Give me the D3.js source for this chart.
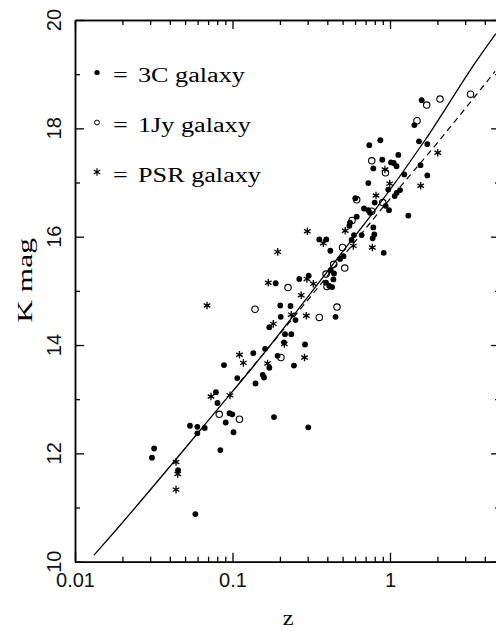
<!DOCTYPE html>
<html>
<head>
<meta charset="utf-8">
<script src="https://cdn.jsdelivr.net/npm/d3@7"></script>
<style>
  body { margin: 0; background: #fff; }
  svg { display: block; }
</style>
</head>
<body>
<script>
// values: [z, K mag]
var gal3C = [
  [0.0883,13.63],[0.1072,13.39],[0.140,13.29],[0.0785,13.13],[0.0803,12.93],[0.0957,12.74],
  [0.0997,12.72],[0.0906,12.57],[0.1015,12.39],[0.0537,12.51],[0.0598,12.49],[0.0666,12.47],
  [0.0598,12.37],[0.0318,12.09],[0.0308,11.92],[0.0837,12.06],[0.0451,11.69],[0.0581,10.88],
  [0.1834,12.67],[0.3028,12.48],[0.1585,13.40],[0.1555,13.45],[0.1933,13.80],[0.2455,13.62],
  [0.1713,13.58],[0.1356,13.85],[0.161,13.93],[0.2123,14.05],[0.2887,14.01],[0.2155,14.20],
  [0.2362,14.20],[0.1713,14.33],[0.2023,14.52],[0.2512,14.46],[0.4508,14.52],[0.201,14.73],
  [0.2335,14.72],[0.188,15.14],[0.2655,15.22],[0.3048,15.28],[0.42,15.38],[0.441,15.32],
  [0.3925,15.15],[0.412,15.09],[0.4287,15.07],[0.437,15.21],[0.3557,15.95],[0.394,15.95],
  [0.418,15.74],[0.4817,15.59],[0.507,15.64],[0.552,16.20],[0.5907,16.03],[0.571,15.94],
  [0.661,16.03],[0.6146,16.37],[0.557,16.26],[0.7834,16.17],[0.795,16.04],[0.776,15.97],
  [0.912,15.70],[0.6839,16.52],[0.7283,16.49],[0.7465,16.44],[0.7993,16.63],[0.939,16.57],
  [0.9855,16.49],[1.307,16.39],[0.602,16.71],[0.975,16.87],[1.157,16.86],[1.103,16.81],
  [1.071,16.75],[0.7283,16.99],[0.7834,17.26],[1.232,17.15],[1.725,17.13],[1.562,17.32],
  [1.015,17.37],[1.056,17.36],[1.1,17.30],[0.893,17.42],[1.129,17.51],[0.739,17.69],
  [0.868,17.78],[1.528,17.76],[1.725,17.71],[1.427,18.06],[1.589,18.52]
];
var gal1Jy = [
  [0.0824,12.72],[0.1107,12.63],[0.139,14.66],[0.203,13.77],[0.2251,15.06],[0.3557,14.51],
  [0.4606,14.70],[0.398,15.08],[0.3925,15.31],[0.439,15.49],[0.5159,15.42],[0.4994,15.80],
  [0.574,16.30],[0.6146,16.68],[0.7658,16.47],[0.899,16.63],[0.936,17.18],[0.7658,17.40],
  [1.484,18.14],[1.71,18.43],[2.077,18.54],[3.244,18.63]
];
var galPSR = [
  [0.1172,13.67],[0.073,13.05],[0.0964,13.07],[0.0438,11.84],[0.0449,11.62],[0.0438,11.33],
  [0.0689,14.73],[0.1937,15.72],[0.1686,15.15],[0.1107,13.82],[0.167,13.66],[0.2133,14.02],
  [0.2865,13.77],[0.1815,14.39],[0.236,14.56],[0.294,14.54],[0.273,14.92],[0.326,15.13],
  [0.2985,16.10],[0.377,15.88],[0.5195,16.11],[0.585,15.83],[0.772,15.80],[0.815,16.76],
  [0.995,16.98],[1.566,16.94],[2.01,17.55],[0.929,17.24],[0.297,15.22]
];
// model curves
var solidCurve = [
  [0.0132,10.12],[0.0184,10.60],[0.0813,12.83],[0.146,13.72],[0.265,14.68],
  [0.481,15.66],[0.803,16.49],[1.668,17.78],[3.57,19.26],[4.7,19.75]
];
var dashedCurve = [
  [0.1116,13.32],[0.289,14.77],[0.907,16.55],[1.98,17.72],[4.64,19.05]
];

var legendLabels = ["3C galaxy", "1Jy galaxy", "PSR galaxy"];
var xMajor = [0.01, 0.1, 1];
var xMajorLabels = ["0.01", "0.1", "1"];
var xMinor = [0.02,0.03,0.04,0.05,0.06,0.07,0.08,0.09,0.2,0.3,0.4,0.5,0.6,0.7,0.8,0.9,2,3,4];
var yMajor = [10, 12, 14, 16, 18, 20];
var yMajorLabels = ["10", "12", "14", "16", "18", "20"];
var yMinor = [11, 13, 15, 17, 19];

var W = 496, H = 631;
var plotL = 75, plotR = 500.1, plotT = 20, plotB = 561.7;

var svg = d3.select("body").append("svg")
    .attr("width", W)
    .attr("height", H);

var x = d3.scaleLog().domain([0.01, 5]).range([plotL, plotR]);
var y = d3.scaleLinear().domain([10, 20]).range([plotB, plotT]);

// axes: ticks point inward on all four sides
function styleAxis(g) {
    g.selectAll("path.domain").attr("stroke", "#000").attr("stroke-width", 1.5);
    g.selectAll(".tick line").attr("stroke", "#000").attr("stroke-width", 1.3);
}

svg.append("g")
    .attr("transform", "translate(0," + plotB + ")")
    .call(d3.axisBottom(x).tickValues(xMajor).tickSize(-9).tickSizeOuter(0).tickPadding(11)
        .tickFormat(function(d, i) { return xMajorLabels[i]; }))
    .call(styleAxis)
    .selectAll("text")
        .attr("font-family", "'Liberation Sans', Arial, sans-serif")
        .attr("font-size", 20)
        .attr("fill", "#111");
svg.append("g")
    .attr("transform", "translate(0," + plotB + ")")
    .call(d3.axisBottom(x).tickValues(xMinor).tickSize(-5).tickSizeOuter(0).tickFormat(""))
    .call(styleAxis);

svg.append("g")
    .attr("transform", "translate(0," + plotT + ")")
    .call(d3.axisTop(x).tickValues(xMajor).tickSize(-9).tickSizeOuter(0).tickFormat(""))
    .call(styleAxis);
svg.append("g")
    .attr("transform", "translate(0," + plotT + ")")
    .call(d3.axisTop(x).tickValues(xMinor).tickSize(-5).tickSizeOuter(0).tickFormat(""))
    .call(styleAxis);

svg.append("g")
    .attr("transform", "translate(" + plotL + ",0)")
    .call(d3.axisLeft(y).tickValues(yMajor).tickSize(-9).tickSizeOuter(0).tickFormat(""))
    .call(styleAxis);
svg.append("g")
    .attr("transform", "translate(" + plotL + ",0)")
    .call(d3.axisLeft(y).tickValues(yMinor).tickSize(-5).tickSizeOuter(0).tickFormat(""))
    .call(styleAxis);

svg.append("g")
    .attr("transform", "translate(" + plotR + ",0)")
    .call(d3.axisRight(y).tickValues(yMajor).tickSize(-9).tickSizeOuter(0).tickFormat(""))
    .call(styleAxis);
svg.append("g")
    .attr("transform", "translate(" + plotR + ",0)")
    .call(d3.axisRight(y).tickValues(yMinor).tickSize(-5).tickSizeOuter(0).tickFormat(""))
    .call(styleAxis);

// rotated y tick labels
svg.selectAll(".ylab")
    .data(yMajor)
    .enter().append("text")
    .attr("class", "ylab")
    .attr("transform", function(d) { return "translate(61," + y(d) + ") rotate(-90)"; })
    .attr("text-anchor", "middle")
    .attr("font-family", "'Liberation Sans', Arial, sans-serif")
    .attr("font-size", 20)
    .attr("fill", "#111")
    .text(function(d, i) { return yMajorLabels[i]; });

// axis titles
svg.append("text")
    .attr("transform", "translate(32,280.5) rotate(-90) scale(1.43,1)")
    .attr("text-anchor", "middle")
    .attr("font-family", "'Liberation Serif', 'Times New Roman', serif")
    .attr("font-size", 22)
    .text("K mag");

svg.append("text")
    .attr("transform", "translate(288,625) scale(1.15,1)")
    .attr("text-anchor", "middle")
    .attr("font-family", "'Liberation Serif', 'Times New Roman', serif")
    .attr("font-size", 21)
    .text("z");

// curves
var line = d3.line()
    .x(function(d) { return x(d[0]); })
    .y(function(d) { return y(d[1]); })
    .curve(d3.curveMonotoneX);

svg.append("path")
    .datum(solidCurve)
    .attr("d", line)
    .attr("fill", "none")
    .attr("stroke", "#000")
    .attr("stroke-width", 1.3);

svg.append("path")
    .datum(dashedCurve)
    .attr("d", line)
    .attr("fill", "none")
    .attr("stroke", "#000")
    .attr("stroke-width", 1.2)
    .attr("stroke-dasharray", "6,4.5");

// markers
var a = 3.8, c = a * Math.cos(Math.PI / 6), s = a * Math.sin(Math.PI / 6);
var starPath = "M0," + (-a) + "L0," + a +
    "M" + c + "," + (-s) + "L" + (-c) + "," + s +
    "M" + (-c) + "," + (-s) + "L" + c + "," + s;

svg.append("g").selectAll("circle")
    .data(gal3C)
    .enter().append("circle")
    .attr("cx", function(d) { return x(d[0]); })
    .attr("cy", function(d) { return y(d[1]); })
    .attr("r", 2.9)
    .attr("fill", "#000");

svg.append("g").selectAll("circle")
    .data(gal1Jy)
    .enter().append("circle")
    .attr("cx", function(d) { return x(d[0]); })
    .attr("cy", function(d) { return y(d[1]); })
    .attr("r", 3.2)
    .attr("fill", "none")
    .attr("stroke", "#000")
    .attr("stroke-width", 1.1);

svg.append("g").selectAll("path")
    .data(galPSR)
    .enter().append("path")
    .attr("transform", function(d) { return "translate(" + x(d[0]) + "," + y(d[1]) + ")"; })
    .attr("d", starPath)
    .attr("stroke", "#000")
    .attr("stroke-width", 1.3);

// legend
var legY = [82, 132, 182];
var leg = svg.append("g");
leg.append("circle").attr("cx", 97).attr("cy", legY[0] - 9.5).attr("r", 2.6).attr("fill", "#000");
leg.append("circle").attr("cx", 97).attr("cy", legY[1] - 9.5).attr("r", 2.4)
    .attr("fill", "none").attr("stroke", "#000").attr("stroke-width", 1);
leg.append("path").attr("transform", "translate(97," + (legY[2] - 10) + ")")
    .attr("d", starPath).attr("stroke", "#000").attr("stroke-width", 1.2);

legendLabels.forEach(function(lab, i) {
    leg.append("text")
        .attr("transform", "translate(113," + legY[i] + ") scale(1.31,1)")
        .attr("font-family", "'Liberation Serif', 'Times New Roman', serif")
        .attr("font-size", 20)
        .text("=");
    leg.append("text")
        .attr("transform", "translate(138," + legY[i] + ") scale(1.31,1)")
        .attr("font-family", "'Liberation Serif', 'Times New Roman', serif")
        .attr("font-size", 20)
        .text(lab);
});
</script>
</body>
</html>
